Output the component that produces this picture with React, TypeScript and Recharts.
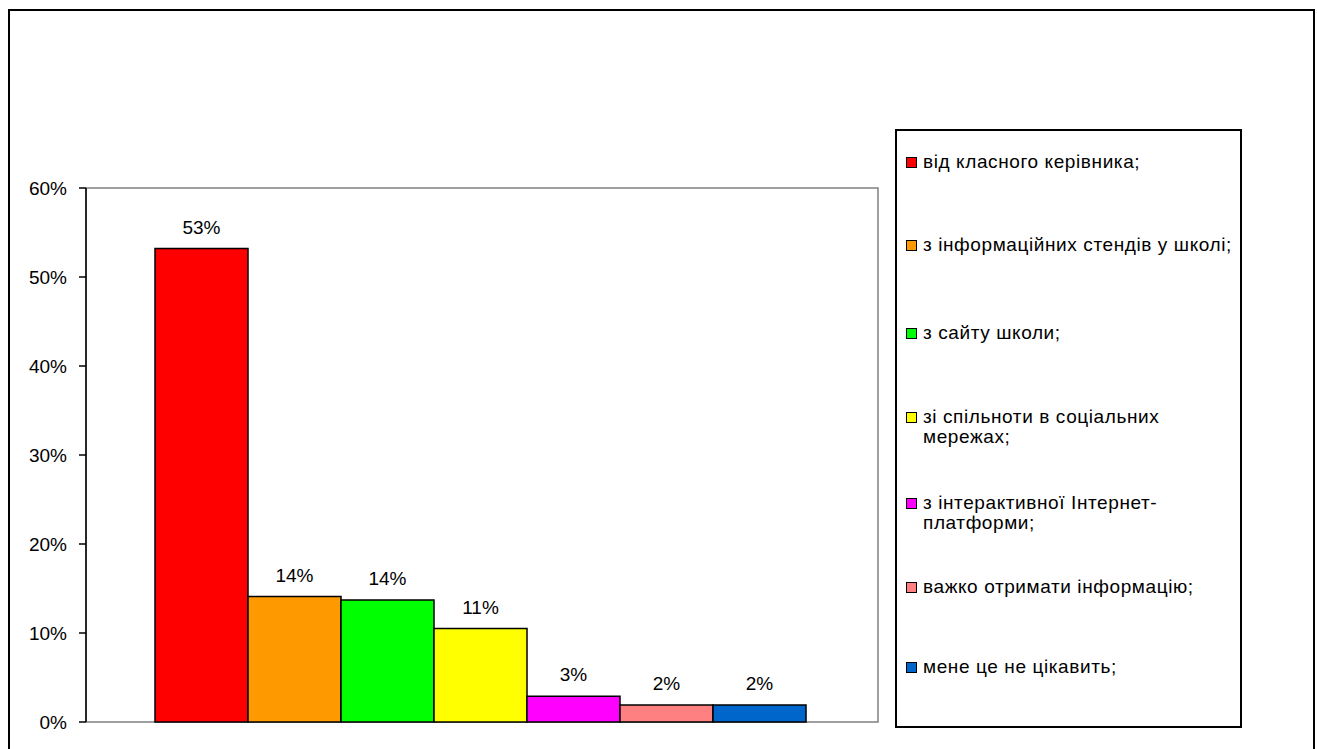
import { Bar, BarChart, LabelList, ReferenceArea, XAxis, YAxis } from "recharts";

// one category, seven answers drawn side by side
const seriesKeys = ["s1", "s2", "s3", "s4", "s5", "s6", "s7"];
const seriesNames = [
	"від класного керівника;",
	"з інформаційних стендів у школі;",
	"з сайту школи;",
	"зі спільноти в соціальних мережах;",
	"з інтерактивної Інтернет-платформи;",
	"важко отримати інформацію;",
	"мене це не цікавить;",
];
const seriesValues = [53.2, 14.1, 13.7, 10.5, 2.9, 1.9, 1.9];
const seriesColors = [
	"#FF0000",
	"#FF9900",
	"#00FF00",
	"#FFFF00",
	"#FF00FF",
	"#FF8080",
	"#0066CC",
];
const yTicks = [0, 10, 20, 30, 40, 50, 60];

const row: Record<string, number | string> = { name: "" };
seriesKeys.forEach((k, i) => {
	row[k] = seriesValues[i];
});
const data = [row];

const font = "'Liberation Sans', Arial, sans-serif";
const legendRowTops = [21, 104, 192, 276, 362, 446, 526];

function ChartLegend() {
	return (
		<div
			style={{
				position: "absolute",
				left: 885,
				top: 118,
				width: 347,
				height: 599,
				border: "2px solid #000",
				boxSizing: "border-box",
				background: "#fff",
				fontFamily: font,
				fontSize: 19,
				letterSpacing: 0.6,
				lineHeight: "20px",
				color: "#000",
			}}
		>
			{seriesNames.map((name, i) => (
				<div
					key={name}
					style={{ position: "absolute", left: 9, top: legendRowTops[i], display: "flex" }}
				>
					<span
						style={{
							width: 11,
							height: 11,
							marginTop: 5,
							border: "1px solid #000",
							boxSizing: "border-box",
							background: seriesColors[i],
							flexShrink: 0,
						}}
					/>
					<span style={{ marginLeft: 6, width: 318 }}>{name}</span>
				</div>
			))}
		</div>
	);
}

export default function App() {
	return (
		<div
			style={{
				position: "fixed",
				left: 8,
				top: 9,
				width: 1303,
				height: 760,
				border: "2px solid #000",
				borderBottom: "none",
				background: "#fff",
			}}
		>
			<BarChart
				width={1303}
				height={740}
				data={data}
				margin={{ top: 177, right: 435, bottom: 29, left: 0 }}
				barCategoryGap={69}
				barGap={0}
			>
				<ReferenceArea
					y1={0}
					y2={60}
					fill="none"
					stroke="#808080"
					strokeWidth={1.5}
				/>
				<XAxis dataKey="name" hide height={0} />
				<YAxis
					domain={[0, 60]}
					ticks={yTicks}
					width={76}
					tickSize={7}
					tickMargin={12}
					tickFormatter={(v) => `${v}%`}
					axisLine={{ stroke: "#000", strokeWidth: 1.5 }}
					tickLine={{ stroke: "#000", strokeWidth: 1.5 }}
					tick={{ fill: "#000", fontSize: 19, fontFamily: font }}
				/>
				{seriesKeys.map((k, i) => (
					<Bar
						key={k}
						dataKey={k}
						name={seriesNames[i]}
						fill={seriesColors[i]}
						stroke="#000"
						strokeWidth={1.5}
						isAnimationActive={false}
					>
						<LabelList
							dataKey={k}
							position="top"
							offset={15}
							formatter={(v: number) => `${Math.round(v)}%`}
							style={{ fill: "#000", fontSize: 19, fontFamily: font }}
						/>
					</Bar>
				))}
			</BarChart>
			<ChartLegend />
		</div>
	);
}
